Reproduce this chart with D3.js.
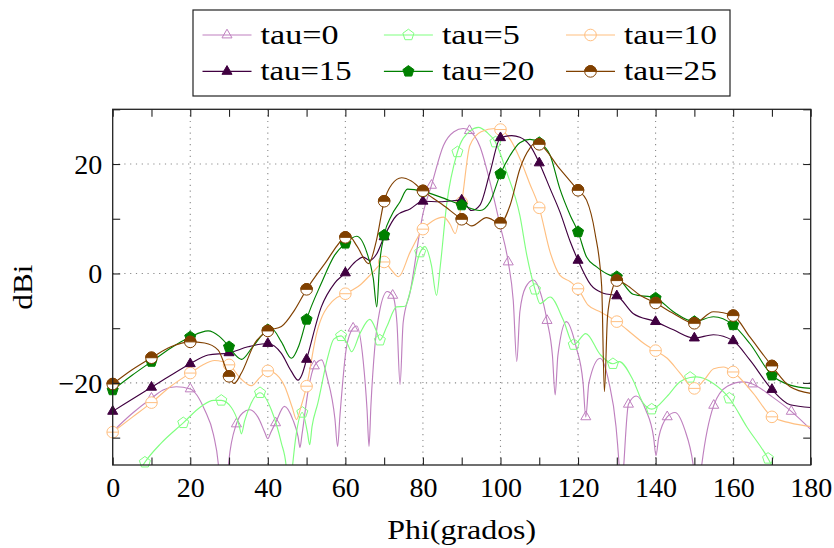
<!DOCTYPE html>
<html><head><meta charset="utf-8">
<script src="https://cdn.jsdelivr.net/npm/d3@7"></script>
<style>body{margin:0;background:#fff}svg{display:block}</style>
</head><body>
<svg id="c" width="834" height="548"></svg>
<script>
// ---------------- data ----------------
const seriesNames = ["tau=0","tau=5","tau=10","tau=15","tau=20","tau=25"];
const seriesColors = ["#bf80bf","#80ff80","#ffbf80","#400040","#008000","#804000"];
const seriesMarkers = ["triangle","pentagon","halfcircle","triangle*","pentagon*","halfcircle*"];
const legendTextWidths = [78,78,93,91,92.5,93];

const xTicks = [0,10,20,30,40,50,60,70,80,90,100,110,120,130,140,150,160,170,180];
const xTickLabels = [0,20,40,60,80,100,120,140,160,180];
const yTicks = [-30,-20,-10,0,10,20,30];
const yTickLabels = [-20,0,20];
const xGrid = [20,40,60,80,100,120,140,160];
const yGrid = [-20,0,20];

// marker points [phi, dBi]
const marks0 = [[0,-28.9],[10,-22.8],[20,-21.1],[31.9,-27.5],[42,-27.3],[52,-16.9],[62,-10],[72.2,-4],[82.2,16.1],[92,26.1],[102,2.1],[112,-8.6],[122,-26.2],[133,-23.9],[143,-26.2],[155,-24.1],[165,-20.2],[175,-25.2]];
const marks5 = [[8.3,-34.5],[18.2,-27.3],[28,-23.2],[38,-21.8],[48.9,-25.4],[58.9,-11.4],[68.9,-12.2],[79.3,3.9],[88.9,22.2],[98.7,24],[108.9,-2.9],[118.9,-13],[129,-16.5],[139,-24.8],[148.9,-19],[159,-22.8],[169,-33.8]];
const marks10 = [[0,-29],[10,-23.6],[20,-18.2],[30,-16.7],[40,-17.8],[50,-20.6],[60,-3.7],[70,2.1],[80,8.1],[90,13],[100,26.3],[110,12],[120,-2.8],[130,-8.8],[140,-14.1],[150,-21],[160,-18],[170,-26.2]];
const marks15 = [[0,-25.2],[10,-20.8],[20,-16.5],[30,-14.5],[40,-12.8],[50,-15.7],[60,0.1],[70,6.7],[80,13.2],[90,13.4],[100,24.8],[110,20.2],[120,2.4],[130,-4.1],[140,-8.8],[150,-11.8],[160,-12.3],[170,-21.2]];
const marks20 = [[0,-21.3],[10,-16.1],[20,-11.6],[30,-13.4],[40,-10.3],[50,-8.4],[60,5.5],[70,7],[80,15],[90,12.5],[100,18.2],[110,23.9],[120,7.6],[130,-0.6],[140,-4.5],[150,-8.8],[160,-9.4],[170,-18.6]];
const marks25 = [[0,-20.2],[10,-15.4],[20,-12.5],[30,-18.8],[40,-10.5],[50,-2.9],[60,6.6],[70,13.2],[80,15.1],[90,9.9],[100,9.2],[110,23.6],[120,15.2],[130,-1.3],[140,-5.4],[150,-9.1],[160,-7.7],[170,-16.9]];

// intermediate curve points [phi, dBi]
const curve0 = [[5,-25.6],[13,-21.3],[16.4,-20.7],[23.7,-24.9],[26,-29.5],[27.2,-34.6],[28.6,-50],[29.9,-34.6],[33.5,-25.5],[35.3,-24.9],[37.5,-26.3],[39.2,-29],[40,-30.2],[40.8,-29],[44.3,-24.3],[46.5,-26.8],[47.8,-29.8],[48.3,-31.8],[48.8,-29.5],[50.5,-21],[53.9,-15.8],[55.3,-19],[57.3,-26.5],[58,-31.6],[58.6,-26],[60.3,-13.4],[62.9,-9.6],[64.6,-16],[65.6,-25],[66.1,-31.6],[66.6,-24],[67.6,-13.4],[68.8,-7],[70.8,-3.3],[73.3,-9],[74.1,-20.3],[74.9,-9],[76.7,-3.4],[80.1,11.2],[85.3,23.4],[88,25.9],[90.4,26.5],[94.7,23.2],[97.3,16.7],[99.9,8.8],[103.3,-5],[104.2,-16.1],[105,-7],[106.5,-2.5],[108.5,-1.2],[110.3,-3.5],[113.4,-15],[114.1,-22.2],[114.8,-15],[117,-8.8],[119.5,-13.4],[121.3,-20],[122.8,-20],[125.7,-15.5],[128,-20],[129.8,-28],[130.6,-35],[131.2,-42],[131.8,-35],[135,-22.4],[137.5,-25],[139.5,-30],[140.1,-33.3],[140.8,-30],[145,-25.4],[147.5,-28.5],[149.7,-35],[150.8,-42],[151.9,-35],[158.5,-20.6],[162.6,-19.8],[170,-22.5],[180,-28.5]];
const curve5 = [[5,-38.5],[12.5,-31],[22.8,-24.3],[26,-23.2],[30.6,-24.5],[32.5,-27.5],[33.2,-29.3],[34,-27],[35.7,-23.7],[40.9,-24.9],[43.5,-31],[44.7,-35],[45.5,-42],[46.4,-35],[47.3,-29.5],[50.2,-29],[50.8,-31.3],[51.4,-28],[52.9,-23.7],[55.5,-15.2],[57,-12],[60.5,-12.8],[61.6,-14.3],[63.8,-10.9],[66.3,-8.4],[68,-10.5],[70.7,-9.7],[73.2,-6.1],[75.4,-6],[76.7,-3.3],[80.5,4.9],[82.2,1.5],[83.5,-4],[84.5,1.5],[86.1,12.5],[92.1,26],[94.3,26.7],[96.5,25.8],[101.6,18.5],[105,10.6],[106.8,3.3],[110.2,-5.5],[112.8,-4.3],[116.2,-8.5],[122,-11],[125.7,-14.8],[130.6,-16.1],[134.2,-19.5],[136.8,-23.7],[142.9,-22.5],[146.3,-19.8],[150.6,-18.9],[154.9,-20.1],[163.5,-28],[172,-38]];
const curve10 = [[5,-26.3],[15,-20.6],[23,-16.8],[26.3,-15.9],[33,-19.2],[35.7,-20.5],[38,-19],[41.5,-18.1],[44.4,-20.7],[46.3,-24.5],[47.4,-26.7],[48.5,-24.5],[52.6,-10.9],[56.9,-4.9],[63.8,-2.1],[67.2,0.3],[71.9,0.6],[73.7,-0.6],[76.7,3.9],[82.5,9.6],[85.3,10.3],[87,9],[88.3,7.3],[92.1,23.4],[95,25.9],[98.6,26.5],[102.5,24.5],[105,21],[107.5,16.5],[112.8,3.9],[115.3,-0.3],[118,-1.5],[122.6,-5.8],[125.7,-7],[134.2,-11.2],[137,-12.8],[143,-15.5],[146.3,-18.2],[152.5,-19.5],[155,-17.4],[157.5,-17.1],[165.2,-21.9],[174.7,-27.3],[180,-28]];
const curve15 = [[5,-23],[15,-18.6],[24.6,-14.9],[34.9,-13.4],[43.5,-14.6],[46,-17.8],[47.8,-19.5],[48.8,-18.5],[53.8,-6.1],[57.2,-1.8],[62.5,2.1],[64.6,3],[66.3,2.4],[68.1,3.6],[73.2,10.6],[76.7,11.8],[84.4,13.1],[92.5,11.5],[94.7,12.5],[97.3,18.5],[102.9,25.2],[105,24.9],[107.6,23.4],[112.8,15.5],[115.3,11.3],[118,5.8],[123.3,-2.1],[126.5,-3.6],[134.2,-7.3],[144.6,-10.3],[154.9,-11.2],[164.3,-15.8],[174.7,-24],[180,-24.5]];
const curve20 = [[5,-18.6],[15,-13.6],[24.6,-10.5],[27.5,-11.5],[31.5,-14.8],[33.2,-15.7],[36,-13.5],[41,-10.1],[43.5,-12.5],[46.1,-15.5],[48,-13.2],[53.8,-1.8],[57.2,3.3],[62.9,6.8],[65.5,3.9],[67.2,-0.9],[68.1,-6.1],[68.8,1.5],[71.9,10.6],[74.1,13.1],[76,15.4],[84.4,14],[94.7,11.5],[97.3,13.1],[102.5,21.6],[105,23.9],[107.6,24.5],[112.8,21.6],[115.3,15.5],[118,10.6],[122.2,3],[124.8,1.2],[128.2,-0.3],[134.2,-3.8],[144.6,-7],[154.9,-7.9],[164.3,-12.8],[174.7,-20.4],[180,-21]];
const curve25 = [[5,-17.6],[15,-13.4],[23.7,-12.7],[27.2,-14],[31.3,-20.1],[33.2,-18.2],[36.6,-12.8],[43.5,-9.7],[46.9,-6.7],[54.7,1.8],[61,6.8],[63,5],[66,1.8],[68,6],[72,16.3],[74.5,17.5],[77,16.9],[85,12.6],[92.6,8.7],[96.4,10.2],[102.5,12.5],[105,19.1],[107.6,22.9],[108.8,23.8],[115.3,19.1],[122.2,13.4],[124.4,7.3],[126.1,-2.4],[126.8,-21.6],[127.6,-7.9],[128.8,-3],[132.5,-2.1],[136,-4],[144.6,-7.3],[154.9,-7],[164.3,-11.6],[174.7,-20.7],[180,-21.9]];

const allMarks = [marks0,marks5,marks10,marks15,marks20,marks25];
const allCurves = [curve0,curve5,curve10,curve15,curve20,curve25];

// ---------------- layout ----------------
const W = 834, H = 548;
const L = 112.7, R = 810.7, T = 109.3, B = 465;
const FONT = "'Liberation Serif','Times New Roman',serif";
const FS = 28;
const MR = 5.8;

const svg = d3.select("#c");
const x = d3.scaleLinear().domain([0,180]).range([L,R]);
const y = d3.scaleLinear().domain([-35,30]).range([B,T]);

svg.append("defs").append("clipPath").attr("id","plotclip")
  .append("rect").attr("x",L).attr("y",T).attr("width",R-L).attr("height",B-T);

// grid
const grid = svg.append("g");
grid.selectAll("line.gx").data(xGrid).join("line")
  .attr("x1",d=>x(d)).attr("x2",d=>x(d)).attr("y1",T).attr("y2",B);
grid.selectAll("line.gy").data(yGrid).join("line").attr("class","gy")
  .attr("x1",L).attr("x2",R).attr("y1",d=>y(d)).attr("y2",d=>y(d));
grid.selectAll("line").attr("stroke","#8a8a8a").attr("stroke-width",1.1)
  .attr("stroke-dasharray","1.2 4.6");

// marker drawing
function drawMarker(g, type, color, cx, cy){
  const r = MR;
  if (type.startsWith("triangle")) {
    const pts = [[0,-r],[0.866*r,0.5*r],[-0.866*r,0.5*r]];
    g.append("path").attr("d","M"+pts.map(p=>[cx+p[0],cy+p[1]].join(",")).join("L")+"Z")
      .attr("fill", type.endsWith("*")?color:"none").attr("stroke",color).attr("stroke-width",1);
  } else if (type.startsWith("pentagon")) {
    const pts = d3.range(5).map(k=>{const a=-Math.PI/2+k*2*Math.PI/5; return [cx+r*Math.cos(a), cy+r*Math.sin(a)];});
    g.append("path").attr("d","M"+pts.map(p=>p.join(",")).join("L")+"Z")
      .attr("fill", type.endsWith("*")?color:"none").attr("stroke",color).attr("stroke-width",1);
  } else {
    g.append("circle").attr("cx",cx).attr("cy",cy).attr("r",r)
      .attr("fill","#fff").attr("stroke",color).attr("stroke-width",1);
    if (type.endsWith("*")) {
      g.append("path").attr("d",`M${cx-r},${cy}A${r},${r} 0 0 1 ${cx+r},${cy}Z`)
        .attr("fill",color).attr("stroke",color).attr("stroke-width",1);
    } else {
      g.append("line").attr("x1",cx-r).attr("x2",cx+r).attr("y1",cy).attr("y2",cy)
        .attr("stroke",color).attr("stroke-width",1);
    }
  }
}

// series
const line = d3.line().x(d=>x(d[0])).y(d=>y(d[1])).curve(d3.curveMonotoneX);
seriesNames.forEach((name,i)=>{
  const pts = allCurves[i].concat(allMarks[i]).sort((a,b)=>a[0]-b[0]);
  const g = svg.append("g");
  g.append("path").datum(pts).attr("d",line).attr("fill","none")
    .attr("stroke",seriesColors[i]).attr("stroke-width",1.15)
    .attr("stroke-linejoin","round").attr("clip-path","url(#plotclip)");
  const mg = g.append("g");
  allMarks[i].forEach(p=>drawMarker(mg, seriesMarkers[i], seriesColors[i], x(p[0]), y(p[1])));
});

// axes: ticks
const TL = 7.5;
function styleAxis(g){
  g.select(".domain").remove();
  g.selectAll(".tick line").attr("stroke","#222").attr("stroke-width",1.1);
  g.selectAll("text").attr("font-family",FONT).attr("font-size",FS).attr("fill","#000");
}
svg.append("g").attr("transform",`translate(0,${B})`)
  .call(d3.axisBottom(x).tickValues(xTicks).tickSize(-TL).tickFormat("")).call(styleAxis);
svg.append("g").attr("transform",`translate(0,${T})`)
  .call(d3.axisTop(x).tickValues(xTicks).tickSize(-TL).tickFormat("")).call(styleAxis);
svg.append("g").attr("transform",`translate(${L},0)`)
  .call(d3.axisLeft(y).tickValues(yTicks).tickSize(-TL).tickFormat("")).call(styleAxis);
svg.append("g").attr("transform",`translate(${R},0)`)
  .call(d3.axisRight(y).tickValues(yTicks).tickSize(-TL).tickFormat("")).call(styleAxis);
// tick labels
svg.append("g").attr("transform",`translate(0,${B})`)
  .call(d3.axisBottom(x).tickValues(xTickLabels).tickSize(0).tickPadding(12).tickFormat(d3.format("d")))
  .call(styleAxis);
svg.append("g").attr("transform",`translate(${L},0)`)
  .call(d3.axisLeft(y).tickValues(yTickLabels).tickSize(0).tickPadding(10.5).tickFormat(d3.format("d")))
  .call(styleAxis).selectAll("text").attr("dy","0.33em");

// frame
svg.append("rect").attr("x",L).attr("y",T).attr("width",R-L).attr("height",B-T)
  .attr("fill","none").attr("stroke","#222").attr("stroke-width",1.3);

// axis titles
svg.append("text").attr("x",(L+R)/2).attr("y",539).attr("text-anchor","middle")
  .attr("font-family",FONT).attr("font-size",FS).attr("textLength",149).attr("lengthAdjust","spacingAndGlyphs")
  .text("Phi(grados)");
svg.append("text").attr("transform",`translate(32,${(T+B)/2}) rotate(-90)`).attr("text-anchor","middle")
  .attr("font-family",FONT).attr("font-size",FS).attr("textLength",45).attr("lengthAdjust","spacingAndGlyphs")
  .text("dBi");

// legend
const lg = svg.append("g");
lg.append("rect").attr("x",193).attr("y",10).attr("width",537).attr("height",86)
  .attr("fill","#fff").attr("stroke","#222").attr("stroke-width",1.2);
const colX = [202.5,383.9,566];
const rowY = [35,71.4];
seriesNames.forEach((name,i)=>{
  const cx = colX[i%3], cy = rowY[Math.floor(i/3)];
  lg.append("line").attr("x1",cx).attr("x2",cx+49).attr("y1",cy).attr("y2",cy)
    .attr("stroke",seriesColors[i]).attr("stroke-width",1.15);
  drawMarker(lg, seriesMarkers[i], seriesColors[i], cx+24.5, cy);
  lg.append("text").attr("x",cx+58).attr("y",cy+8.8)
    .attr("font-family",FONT).attr("font-size",FS)
    .attr("textLength",legendTextWidths[i]).attr("lengthAdjust","spacingAndGlyphs")
    .text(name);
});
</script>
</body></html>
